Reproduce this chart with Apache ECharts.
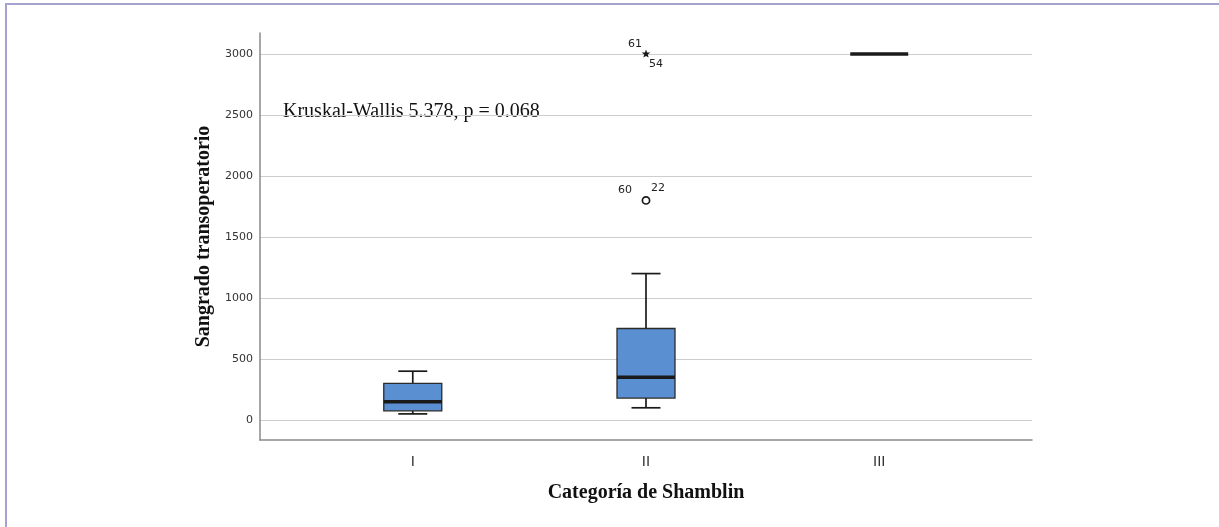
<!DOCTYPE html>
<html>
<head>
<meta charset="utf-8">
<title>Sangrado transoperatorio</title>
<script src="https://cdn.jsdelivr.net/npm/echarts@6/dist/echarts.min.js"></script>
<style>
  html, body { margin: 0; padding: 0; background: #fff; }
  #frame {
    position: absolute; left: 5px; top: 3px; width: 1214px; height: 524px;
    border-left: 2px solid #a6a2cf; border-top: 2px solid #a6a2cf; box-sizing: border-box;
  }
  #chart { position: absolute; left: 0; top: 0; width: 1219px; height: 527px; }
</style>
</head>
<body>
<div id="frame"></div>
<div id="chart"></div>
<script>
// box summaries per Shamblin category
const categories = ['I', 'II', 'III'];
const whiskerLow = [50, 100, 3000];
const q1 = [75, 180, 3000];
const median = [150, 350, 3000];
const q3 = [300, 750, 3000];
const whiskerHigh = [400, 1200, 3000];

// outliers (category index, value, marker kind, case ids)
const outlierCat = [1, 1];
const outlierValues = [1800, 3000];
const outlierKind = ['circle', 'star'];
const outlierIds = [['60', '22'], ['61', '54']];

const yTicks = [0, 500, 1000, 1500, 2000, 2500, 3000];

const boxData = categories.map((c, i) => [i + 1, whiskerLow[i], q1[i], median[i], q3[i], whiskerHigh[i]]);
const outlierData = outlierValues.map((v, i) => [outlierCat[i] + 1, v, i]);

const lineColor = '#1a1a1a';
const boxHalf = 29;
const capHalf = 14.5;

function renderBox(params, api) {
  const x = api.value(0);
  const low = api.coord([x, api.value(1)]);
  const b1 = api.coord([x, api.value(2)]);
  const med = api.coord([x, api.value(3)]);
  const b3 = api.coord([x, api.value(4)]);
  const high = api.coord([x, api.value(5)]);
  const cx = med[0];
  const children = [];
  const line = (x1, y1, x2, y2, w) => ({
    type: 'line',
    shape: { x1, y1, x2, y2 },
    style: { stroke: lineColor, lineWidth: w }
  });
  if (api.value(5) > api.value(4)) {
    children.push(line(cx, high[1], cx, b3[1], 1.7));
    children.push(line(cx - capHalf, high[1], cx + capHalf, high[1], 1.7));
  }
  if (api.value(2) > api.value(1)) {
    children.push(line(cx, b1[1], cx, low[1], 1.7));
    children.push(line(cx - capHalf, low[1], cx + capHalf, low[1], 1.7));
  }
  if (api.value(4) > api.value(2)) {
    children.push({
      type: 'rect',
      shape: { x: cx - boxHalf, y: b3[1], width: boxHalf * 2, height: b1[1] - b3[1] },
      style: { fill: '#5a8fd2', stroke: '#2b2b2b', lineWidth: 1.3 }
    });
  }
  children.push(line(cx - boxHalf, med[1], cx + boxHalf, med[1], 3.4));
  return { type: 'group', children };
}

// label offsets for case ids around each outlier marker
const idOffsets = {
  circle: [[-21, -10], [12, -12]],
  star: [[-11, -10], [10, 10]]
};

function renderOutlier(params, api) {
  const p = api.coord([api.value(0), api.value(1)]);
  const i = api.value(2);
  const kind = outlierKind[i];
  const children = [];
  if (kind === 'circle') {
    children.push({
      type: 'circle',
      shape: { cx: p[0], cy: p[1], r: 3.6 },
      style: { fill: '#fff', stroke: lineColor, lineWidth: 1.7 }
    });
  } else {
    const pts = [];
    for (let k = 0; k < 10; k++) {
      const r = k % 2 === 0 ? 4.5 : 1.9;
      const a = -Math.PI / 2 + k * Math.PI / 5;
      pts.push([p[0] + r * Math.cos(a), p[1] + r * Math.sin(a)]);
    }
    children.push({ type: 'polygon', shape: { points: pts }, style: { fill: lineColor } });
  }
  outlierIds[i].forEach((id, k) => {
    const off = idOffsets[kind][k];
    children.push({
      type: 'text',
      x: p[0] + off[0],
      y: p[1] + off[1],
      style: {
        text: id, fill: '#222', font: '11px "DejaVu Sans"',
        align: 'center', verticalAlign: 'middle'
      }
    });
  });
  return { type: 'group', children };
}

const chart = echarts.init(document.getElementById('chart'), null, { renderer: 'canvas' });
chart.setOption({
  backgroundColor: 'transparent',
  animation: false,
  grid: { left: 260, right: 187, top: 33, bottom: 87 },
  xAxis: {
    type: 'value',
    min: 0.345,
    max: 3.655,
    name: 'Categoría de Shamblin',
    nameLocation: 'middle',
    nameGap: 43,
    nameTextStyle: { fontFamily: 'Liberation Serif', fontWeight: 'bold', fontSize: 20, color: '#111' },
    axisLine: { show: true, onZero: false, lineStyle: { color: '#8a8a8a', width: 1.5 } },
    axisTick: { show: false },
    splitLine: { show: false },
    axisLabel: {
      customValues: [1, 2, 3],
      formatter: v => categories[Math.round(v) - 1],
      fontFamily: 'DejaVu Sans', fontSize: 14, color: '#333', margin: 15
    }
  },
  yAxis: {
    type: 'value',
    min: -164,
    max: 3172,
    name: 'Sangrado transoperatorio',
    nameLocation: 'middle',
    nameGap: 41,
    nameRotate: 90,
    nameTextStyle: { fontFamily: 'Liberation Serif', fontWeight: 'bold', fontSize: 20, color: '#111' },
    axisLine: { show: true, onZero: false, lineStyle: { color: '#8a8a8a', width: 1.5 } },
    axisTick: { show: false, customValues: yTicks },
    splitLine: { show: true, lineStyle: { color: '#cdcdcd', width: 1 } },
    axisLabel: {
      customValues: yTicks,
      formatter: v => String(v),
      fontFamily: 'DejaVu Sans', fontSize: 11, color: '#333', margin: 7
    }
  },
  graphic: [{
    type: 'text',
    left: 283,
    top: 102,
    style: {
      text: 'Kruskal-Wallis 5.378, p = 0.068',
      font: '20px "Liberation Serif"',
      fill: '#111'
    }
  }],
  series: [
    { type: 'custom', renderItem: renderBox, data: boxData, clip: false },
    { type: 'custom', renderItem: renderOutlier, data: outlierData, clip: false }
  ]
});
</script>
</body>
</html>
